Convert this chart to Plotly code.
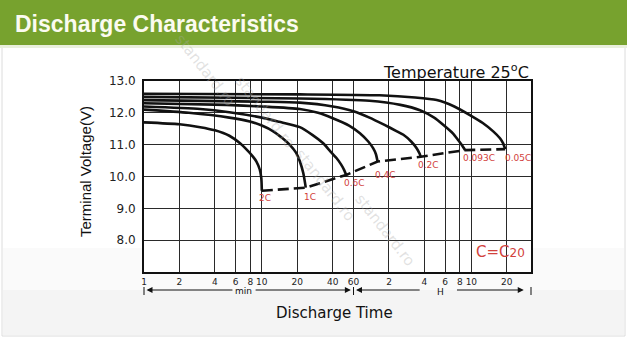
import math
import plotly.graph_objects as go

# ---------------- data ----------------
rates = ["2C", "1C", "0.6C", "0.4C", "0.2C", "0.093C", "0.05C"]

t_2c = [1, 2, 3, 4, 5.3, 6.5, 7.4, 8.3, 9.0, 9.6, 9.9, 10.0]
v_2c = [11.70, 11.64, 11.55, 11.45, 11.28, 11.05, 10.85, 10.65, 10.47, 10.22, 9.95, 9.55]

t_1c = [1, 2.4, 5.3, 7.9, 10, 12.5, 15, 17.2, 19.5, 21, 22.5, 23.6]
v_1c = [12.10, 12.00, 11.85, 11.73, 11.60, 11.42, 11.20, 11.00, 10.75, 10.48, 10.10, 9.65]

t_06c = [1, 3, 5.3, 10, 14, 21, 27, 33, 38, 43, 47, 50, 52]
v_06c = [12.20, 12.12, 12.02, 11.85, 11.72, 11.55, 11.30, 11.05, 10.80, 10.58, 10.38, 10.20, 10.05]

t_04c = [1, 5, 10, 21, 30, 40, 55, 68, 80, 88, 93, 96]
v_04c = [12.30, 12.25, 12.20, 12.12, 12.00, 11.83, 11.60, 11.36, 11.10, 10.89, 10.70, 10.47]

t_02c = [1, 10, 21, 40, 60, 82, 110, 140, 159, 185, 206, 218, 223]
v_02c = [12.40, 12.35, 12.32, 12.20, 12.05, 11.85, 11.62, 11.42, 11.31, 11.10, 10.89, 10.72, 10.62]

t_0093c = [1, 21, 82, 150, 220, 290, 350, 420, 465, 500, 531]
v_0093c = [12.50, 12.45, 12.38, 12.25, 12.08, 11.85, 11.61, 11.35, 11.14, 10.98, 10.83]

t_005c = [1, 21, 100, 200, 305, 430, 583, 750, 925, 1050, 1117, 1162]
v_005c = [12.60, 12.58, 12.55, 12.48, 12.40, 12.20, 11.93, 11.68, 11.41, 11.20, 11.04, 10.86]

curves_t = [t_2c, t_1c, t_06c, t_04c, t_02c, t_0093c, t_005c]
curves_v = [v_2c, v_1c, v_06c, v_04c, v_02c, v_0093c, v_005c]

x_tickvals = [1, 2, 4, 6, 8, 10, 20, 40, 60, 120, 240, 360, 480, 600, 1200]
x_ticktext = ["1", "2", "4", "6", "8", "10", "20", "40", "60", "2", "4", "6", "8", "10", "20"]
y_tickvals = [8, 9, 10, 11, 12, 13]
y_ticktext = ["8.0", "9.0", "10.0", "11.0", "12.0", "13.0"]
x_max = 1925  # right edge of the time axis (min)

# ---------------- layout geometry ----------------
W, H = 627, 338
L, R, T, B = 144, 96, 81, 66
PW, PH = W - L - R, H - T - B


def px(x):
    return (x - L) / PW


def py(y):
    return (H - B - y) / PH


lg = math.log10


def tx(t):
    """time (min) -> paper x on the log time axis"""
    return lg(t) / lg(x_max)


RED = "#d2413c"
FONT = "DejaVu Sans"
INK = "#111111"

fig = go.Figure()

for tt, vv in zip(curves_t, curves_v):
    fig.add_trace(go.Scatter(x=tt, y=vv, mode="lines",
                             line=dict(color=INK, width=2.6, shape="spline", smoothing=0.6),
                             hoverinfo="skip", showlegend=False))

end_t = [tt[-1] for tt in curves_t]
end_v = [vv[-1] for vv in curves_v]
fig.add_trace(go.Scatter(x=end_t, y=end_v, mode="lines",
                         line=dict(color=INK, width=2.6, dash="11px,5px"),
                         hoverinfo="skip", showlegend=False))

annotations = []
label_shift = [(3, -7), (4, -9), (8, -8), (8, -13), (8, -8), (14, -8), (13, -9)]
for name, et, ev, (dx, dy) in zip(rates, end_t, end_v, label_shift):
    annotations.append(dict(x=lg(et), y=ev, xref="x", yref="y", text=name, showarrow=False,
                            xanchor="center", yanchor="middle",
                            xshift=dx, yshift=dy, font=dict(family=FONT, size=9, color=RED)))


def note(x, y, text, size, color=INK, family=FONT, xanchor="center", **kw):
    annotations.append(dict(x=px(x), y=py(y), xref="paper", yref="paper", xanchor=xanchor,
                            yanchor="middle", text=text, showarrow=False,
                            font=dict(family=family, size=size, color=color), **kw))


# header title
note(13, 24, "<b>Discharge Characteristics</b>", 23, color="#fbfbf0", family="Liberation Sans", xanchor="left")
# temperature
note(531, 71, "Temperature 25<sup>o</sup>C", 16, xanchor="right")
# C=C20
note(500, 252, "C=C<span style='font-size:12px'>20</span>", 15, color=RED)
# axis titles
note(85, 172, "Terminal Voltage(V)", 15, family="Liberation Sans", textangle=-90)
note(334, 313, "Discharge Time", 15)

# min / H span row
row_y = py(290)
annotations.append(dict(x=lg(7.0), y=py(291), xref="x", yref="paper", text="min", showarrow=False,
                        xanchor="center", yanchor="middle", font=dict(family=FONT, size=9, color=INK)))
annotations.append(dict(x=lg(330), y=py(292), xref="x", yref="paper", text="H", showarrow=False,
                        xanchor="center", yanchor="middle", font=dict(family=FONT, size=9, color=INK)))
for head, tail in [(1.05, 5.8), (57, 8.6), (63, 225), (1670, 440)]:
    annotations.append(dict(x=lg(head), y=row_y, xref="x", yref="paper", ax=lg(tail), ay=0,
                            axref="x", ayref="pixel", text="", showarrow=True, arrowhead=2,
                            arrowsize=1.2, arrowwidth=1, arrowcolor=INK, standoff=0, startstandoff=0))

# watermark
for cx, cy in [(205, 70), (265, 112), (325, 185), (385, 230)]:
    note(cx, cy, "standard.ro", 15, color="rgba(170,170,170,0.35)", textangle=52)

shapes = [
    dict(type="rect", xref="paper", yref="paper", x0=px(0), x1=px(W), y0=py(H), y1=py(0),
         fillcolor="#ffffff", line=dict(width=0), layer="below"),
    dict(type="rect", xref="paper", yref="paper", x0=px(2), x1=px(625), y0=py(336), y1=py(47),
         fillcolor="#ffffff", line=dict(color="#dcdcdc", width=1), layer="below"),
    dict(type="rect", xref="paper", yref="paper", x0=px(3), x1=px(624), y0=py(335), y1=py(248),
         fillcolor="#fafafa", line=dict(width=0), layer="below"),
    dict(type="rect", xref="paper", yref="paper", x0=px(3), x1=px(624), y0=py(335), y1=py(290),
         fillcolor="#f4f4f4", line=dict(width=0), layer="below"),
    dict(type="rect", xref="paper", yref="paper", x0=0, x1=1, y0=0, y1=1,
         fillcolor="#ffffff", line=dict(width=0), layer="below"),
    dict(type="rect", xref="paper", yref="paper", x0=px(0), x1=px(W), y0=py(45), y1=py(0),
         fillcolor="#77a22e", line=dict(width=0), layer="below"),
    dict(type="rect", xref="paper", yref="paper", x0=px(0), x1=px(W), y0=py(48), y1=py(45),
         fillcolor="#e9efdc", line=dict(width=0), layer="below"),
]
# end bars of the min / H spans
for xb in [1, 60, x_max]:
    shapes.append(dict(type="line", xref="paper", yref="paper", x0=tx(xb), x1=tx(xb),
                       y0=py(295), y1=py(287), line=dict(color=INK, width=1), layer="above"))

fig.update_layout(
    width=W, height=H,
    margin=dict(l=L, r=R, t=T, b=B, pad=0),
    paper_bgcolor="#ffffff", plot_bgcolor="#ffffff",
    showlegend=False,
    annotations=annotations,
    shapes=shapes,
    xaxis=dict(type="log", range=[0, lg(x_max)], tickvals=x_tickvals, ticktext=x_ticktext,
               showgrid=True, gridcolor="#2a2a2a", gridwidth=1, zeroline=False,
               showline=True, linecolor=INK, linewidth=2, mirror=True, ticks="",
               tickfont=dict(family=FONT, size=9, color="#222222")),
    yaxis=dict(range=[7, 13], tickvals=y_tickvals, ticktext=y_ticktext,
               showgrid=True, gridcolor="#2a2a2a", gridwidth=1, zeroline=False,
               showline=True, linecolor=INK, linewidth=2, mirror=True, ticks="",
               ticklabelstandoff=4,
               tickfont=dict(family=FONT, size=12, color="#222222")),
)

fig.write_html("out.html")
